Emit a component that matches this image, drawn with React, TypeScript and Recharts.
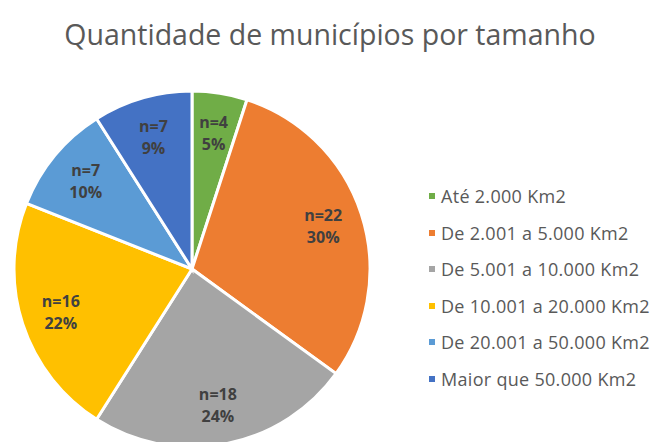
import React from "react";
import { PieChart, Pie, Cell, Legend } from "recharts";

const categories = [
  "Até 2.000 Km2",
  "De 2.001 a 5.000 Km2",
  "De 5.001 a 10.000 Km2",
  "De 10.001 a 20.000 Km2",
  "De 20.001 a 50.000 Km2",
  "Maior que 50.000 Km2",
];
const percents = [5, 30, 24, 22, 10, 9];
const counts = [4, 22, 18, 16, 7, 7];
const colors = ["#70AD47", "#ED7D31", "#A5A5A5", "#FFC000", "#5B9BD5", "#4472C4"];
const title = "Quantidade de municípios por tamanho";

const data = categories.map((name, i) => ({
  name,
  value: percents[i],
  n: counts[i],
}));

const RAD = Math.PI / 180;

const renderLabel = (props: any) => {
  const { cx, cy, midAngle, outerRadius, index } = props;
  const r = outerRadius * 0.775;
  const x = cx + r * Math.cos(-midAngle * RAD);
  const y = cy + r * Math.sin(-midAngle * RAD);
  return (
    <text
      x={x}
      y={y}
      textAnchor="middle"
      fill="#404040"
      fontFamily="Open Sans"
      fontWeight="bold"
      fontSize={16}
    >
      <tspan x={x} dy={-5}>{`n=${counts[index]}`}</tspan>
      <tspan x={x} dy={22}>{`${percents[index]}%`}</tspan>
    </text>
  );
};

const renderLegend = () => (
  <div style={{ fontFamily: "Open Sans", fontSize: 18, color: "#595959", letterSpacing: 0.3 }}>
    {categories.map((c, i) => (
      <div
        key={c}
        style={{ display: "flex", alignItems: "center", height: 36.5, whiteSpace: "nowrap" }}
      >
        <span
          style={{
            display: "inline-block",
            width: 6,
            height: 6,
            background: colors[i],
            marginRight: 6,
          }}
        />
        <span>{c}</span>
      </div>
    ))}
  </div>
);

export default function App() {
  return (
    <div style={{ position: "absolute", left: 0, top: 0, width: 655, height: 442, background: "#fff", overflow: "hidden" }}>
      <svg width={655} height={60} style={{ position: "absolute", left: 0, top: 0 }}>
        <text
          x={330}
          y={45}
          textAnchor="middle"
          fontFamily="Open Sans"
          fontSize={28.5}
          fill="#595959"
        >
          {title}
        </text>
      </svg>
      <PieChart width={655} height={442} margin={{ top: 0, right: 0, bottom: 0, left: 0 }}>
        <Pie
          data={data}
          dataKey="value"
          nameKey="name"
          cx={192}
          cy={269}
          outerRadius={178}
          startAngle={90}
          endAngle={-270}
          stroke="#ffffff"
          strokeWidth={3}
          label={renderLabel}
          labelLine={false}
          isAnimationActive={false}
        >
          {data.map((d, i) => (
            <Cell key={d.name} fill={colors[i]} />
          ))}
        </Pie>
        <Legend
          content={renderLegend}
          wrapperStyle={{ position: "absolute", left: 429, top: 178, width: 226 }}
        />
      </PieChart>
    </div>
  );
}
